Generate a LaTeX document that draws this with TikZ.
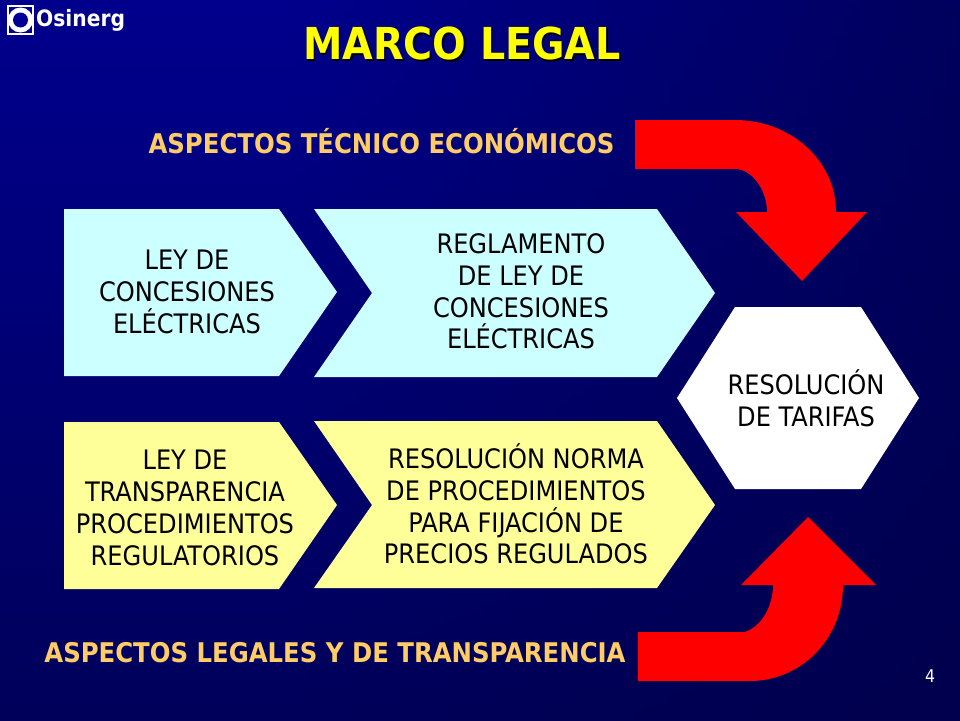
\documentclass[tikz,border=0pt]{standalone}
\usepackage{fontspec}
\setmainfont{DejaVu Sans Condensed}
\newfontfamily\boldsans{DejaVu Sans Condensed Bold}
\usetikzlibrary{positioning,fadings}
\definecolor{bgtop}{RGB}{0,0,150}
\definecolor{bgright}{RGB}{0,0,58}
\definecolor{bgbottom}{RGB}{0,0,72}
\definecolor{palecyan}{RGB}{204,255,255}
\definecolor{paleyellow}{RGB}{255,255,153}
\definecolor{headtext}{RGB}{255,204,102}
\definecolor{mainred}{RGB}{255,0,0}
\definecolor{maintitle}{RGB}{255,255,0}
\pgfdeclarehorizontalshading{slideshade}{100bp}{color(0bp)=(bgtop); color(40bp)=(bgtop); color(100bp)=(bgright)}
\begin{document}
\begin{tikzpicture}[
          x=1pt,
          y=-1pt,
          boxtext/.style={align=center,text=black,font=\fontsize{26.8}{31.8}\selectfont},
          headlabel/.style={text=headtext,font=\fontsize{27.1}{30}\boldsans},
          arrowshape/.style={fill=mainred}
        ]
        \useasboundingbox (0,0) rectangle (960,720);
        \clip (0,0) rectangle (960,720);
        \shade[shading=slideshade] (0,0) rectangle (960,720);
        \fill[bgbottom,path fading=north] (-10,-125) rectangle (970,975);
        % logo
        \fill[white] (7,5) rectangle (34,35);
        \fill[bgtop] (9,7) rectangle (32,33);
        \fill[white] (20.5,20) circle (12.5);
        \fill[bgtop] (20.5,20) circle (7.5);
        \node[text=white,font=\fontsize{22.5}{30}\boldsans,inner sep=0pt,anchor=west] (logo) at (36,20) {Osinerg};
        % title
        \node[text=black,font=\fontsize{44}{50}\boldsans] (titleshadow) at (463.5,45) {MARCO LEGAL};
        \node[text=maintitle,font=\fontsize{44}{50}\boldsans] (title) at (462,43.5) {MARCO LEGAL};
        \node[headlabel] (upperhead) at (381.5,141) {ASPECTOS TÉCNICO ECONÓMICOS};
        \node[headlabel] (lowerhead) at (335,653) {ASPECTOS LEGALES Y DE TRANSPARENCIA};
        % arrows
        \fill[arrowshape] (635,120) -- (735,120) .. controls (790,120) and (836,160) .. (836,212) -- (867,212) -- (802,281) -- (736,212) -- (767,212) .. controls (767,190) and (752,169) .. (735,169) -- (635,169) -- cycle;
        \fill[arrowshape] (638,632) -- (745,632) .. controls (762,626) and (773,606) .. (773,585) -- (741,585) -- (808,517) -- (876,585) -- (843,585) .. controls (843,640) and (800,681) .. (750,681) -- (638,681) -- cycle;
        % boxes
        \fill[palecyan] (64,209) -- (279,209) -- (337,292) -- (279,376) -- (64,376) -- cycle;
        \fill[palecyan] (314,209) -- (657,209) -- (715,293) -- (657,377) -- (314,377) -- (372,293) -- cycle;
        \fill[paleyellow] (64,422) -- (279,422) -- (337,505) -- (279,589) -- (64,589) -- cycle;
        \fill[paleyellow] (314,421) -- (657,421) -- (715,505) -- (657,588) -- (314,588) -- (372,505) -- cycle;
        \fill[white] (677,398) -- (735,307) -- (861,307) -- (919,398) -- (861,489) -- (735,489) -- cycle;
        \node[boxtext] (leyelec) at (187,292) {LEY DE\\CONCESIONES\\ELÉCTRICAS};
        \node[boxtext] (reglamento) at (521,291.5) {REGLAMENTO\\DE LEY DE\\CONCESIONES\\ELÉCTRICAS};
        \node[boxtext] (leytransp) at (185,508) {LEY DE\\TRANSPARENCIA\\PROCEDIMIENTOS\\REGULATORIOS};
        \node[boxtext] (norma) at (516,504) {RESOLUCIÓN NORMA\\DE PROCEDIMIENTOS\\PARA FIJACIÓN DE\\PRECIOS REGULADOS};
        \node[boxtext] (tarifas) at (806,398.5) {RESOLUCIÓN\\DE TARIFAS};
        \node[text=white,font=\fontsize{17.5}{20}\selectfont] (pagenum) at (930,676) {4};
\end{tikzpicture}
\end{document}
